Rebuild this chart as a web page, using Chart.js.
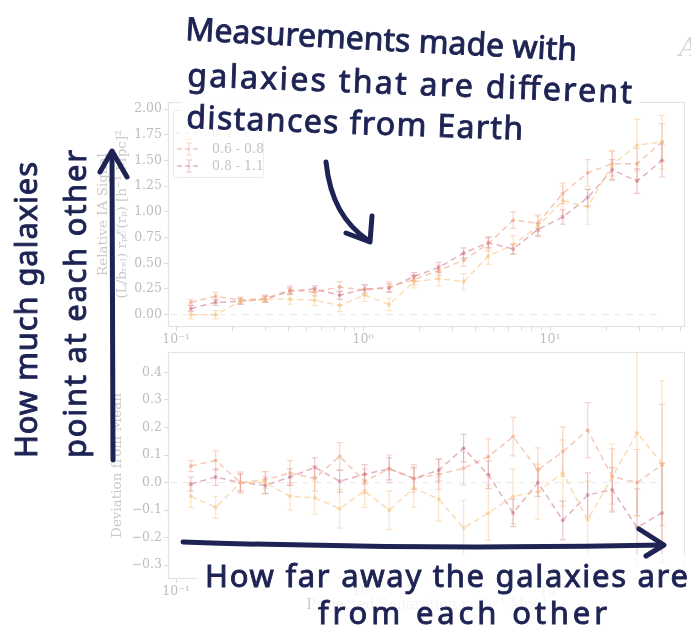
<!DOCTYPE html>
<html>
<head>
<meta charset="utf-8">
<script src="https://cdn.jsdelivr.net/npm/chart.js@4.4.1/dist/chart.umd.min.js"></script>
<style>
  html, body { margin: 0; padding: 0; background: #ffffff; width: 691px; height: 636px; overflow: hidden; }
  #wrap { position: relative; width: 691px; height: 636px; }
  canvas { position: absolute; left: 0; }
  #ann { position: absolute; left: 0; top: 0; }
</style>
</head>
<body>
<div id="wrap">
  <canvas id="topChart" width="691" height="260" style="top:90px"></canvas>
  <canvas id="botChart" width="691" height="296" style="top:340px"></canvas>
  <svg id="ann" width="691" height="636" xmlns="http://www.w3.org/2000/svg">
    <text x="679" y="56" font-family="DejaVu Serif" font-style="italic" font-size="26" fill="#d6d6d6">A</text>
    <g font-family="Noto Sans, sans-serif" fill="#1d2353" stroke="#1d2353" stroke-width="0.9" font-size="32">
      <g transform="rotate(3 185 40)">
        <rect x="178" y="8" width="408" height="44" fill="#ffffff" fill-opacity="0.82" stroke="none"/>
        <text x="185" y="40" textLength="392" lengthAdjust="spacing">Measurements made with</text>
      </g>
      <g transform="rotate(2.2 187 86)">
        <rect x="180" y="56" width="460" height="42" fill="#ffffff" fill-opacity="0.82" stroke="none"/>
        <text x="187" y="86" textLength="445" lengthAdjust="spacing">galaxies that are different</text>
      </g>
      <g transform="rotate(2 186 128)">
        <rect x="179" y="97" width="350" height="42" fill="#ffffff" fill-opacity="0.82" stroke="none"/>
        <text x="186" y="128" textLength="337" lengthAdjust="spacing">distances from Earth</text>
      </g>
      <rect x="196" y="554" width="495" height="44" fill="#ffffff" fill-opacity="0.8" stroke="none"/>
      <text x="205" y="587" textLength="483" lengthAdjust="spacing" font-size="31">How far away the galaxies are</text>
      <rect x="310" y="596" width="305" height="40" fill="#ffffff" fill-opacity="0.8" stroke="none"/>
      <text x="318" y="624" textLength="289" lengthAdjust="spacing" font-size="31">from each other</text>
      <text transform="translate(37 458) rotate(-90)" x="0" y="0" textLength="296" lengthAdjust="spacing" font-size="31">How much galaxies</text>
      <text transform="translate(86 458) rotate(-90)" x="0" y="0" textLength="308" lengthAdjust="spacing" font-size="31">point at each other</text>
    </g>
    <g fill="none" stroke="#1d2353" stroke-width="5" stroke-linecap="round" stroke-linejoin="round">
      <path d="M326 162 C 330 200, 344 224, 369 241"/>
      <path d="M346 233 L 370 242 L 372 216"/>
      <path d="M113 460 L 112 152"/>
      <path d="M100 172 L 112 151 L 127 177"/>
      <path d="M183 542 Q 420 550 663 545"/>
      <path d="M639 529 L 664 545 L 646 556"/>
    </g>
  </svg>
</div>
<script>
// ---------------- data ----------------
const separations = [0.12, 0.163, 0.221, 0.300, 0.407, 0.552, 0.750, 1.02, 1.38, 1.87,
                     2.54, 3.45, 4.68, 6.35, 8.62, 11.7, 15.9, 21.5, 29.2, 39.7];
const redshiftBins = ['0.4 - 0.6', '0.6 - 0.8', '0.8 - 1.1'];

// Relative IA signal (top panel)
const signalLow  = [0.00, 0.00, 0.13, 0.15, 0.15, 0.14, 0.09, 0.19, 0.10, 0.32, 0.35, 0.32, 0.57, 0.68, 0.86, 1.11, 1.05, 1.46, 1.65, 1.68];
const signalMid  = [0.12, 0.18, 0.14, 0.16, 0.24, 0.22, 0.27, 0.24, 0.27, 0.34, 0.43, 0.53, 0.69, 0.92, 0.89, 1.18, 1.38, 1.47, 1.47, 1.68];
const signalHigh = [0.06, 0.12, 0.13, 0.15, 0.23, 0.25, 0.19, 0.25, 0.26, 0.37, 0.46, 0.60, 0.70, 0.64, 0.83, 0.95, 1.14, 1.41, 1.30, 1.50];
const signalLowErr  = [0.04, 0.04, 0.03, 0.03, 0.05, 0.05, 0.06, 0.06, 0.06, 0.06, 0.07, 0.08, 0.08, 0.09, 0.10, 0.14, 0.17, 0.14, 0.25, 0.26];
const signalMidErr  = [0.03, 0.04, 0.03, 0.03, 0.04, 0.04, 0.05, 0.05, 0.05, 0.05, 0.05, 0.06, 0.07, 0.08, 0.08, 0.10, 0.13, 0.12, 0.15, 0.18];
const signalHighErr = [0.03, 0.03, 0.03, 0.03, 0.03, 0.03, 0.04, 0.04, 0.04, 0.04, 0.05, 0.05, 0.05, 0.05, 0.06, 0.07, 0.08, 0.10, 0.12, 0.16];

// Deviation from mean (bottom panel)
const devLow  = [-0.05, -0.09, 0.00, 0.00, -0.05, -0.055, -0.095, -0.03, -0.10, -0.02, -0.06, -0.165, -0.11, -0.05, -0.033, 0.035, -0.135, 0.02, 0.18, 0.07];
const devMid  = [0.06, 0.08, 0.00, 0.01, 0.035, 0.015, 0.095, 0.005, 0.05, 0.015, 0.03, 0.052, 0.094, 0.167, 0.046, 0.112, 0.19, 0.022, 0.00, 0.064];
const devHigh = [-0.005, 0.02, 0.00, -0.01, 0.02, 0.055, 0.005, 0.03, 0.05, 0.015, 0.045, 0.125, 0.028, -0.11, 0.00, -0.137, -0.045, -0.026, -0.163, -0.11];
const devLowErr  = [0.04, 0.04, 0.04, 0.04, 0.05, 0.06, 0.07, 0.06, 0.07, 0.07, 0.08, 0.10, 0.10, 0.10, 0.10, 0.12, 0.14, 0.12, 0.30, 0.30];
const devMidErr  = [0.02, 0.035, 0.035, 0.03, 0.045, 0.045, 0.05, 0.045, 0.05, 0.05, 0.055, 0.06, 0.065, 0.07, 0.08, 0.09, 0.10, 0.10, 0.12, 0.22];
const devHighErr = [0.025, 0.03, 0.03, 0.03, 0.03, 0.035, 0.04, 0.035, 0.04, 0.04, 0.04, 0.05, 0.05, 0.05, 0.05, 0.07, 0.08, 0.08, 0.14, 0.18];

// ticks
const xMajorTicks  = [0.1, 1, 10];
const xMajorLabels = ['10\u207B\u00B9', '10\u2070', '10\u00B9'];
const xMinorTicks  = [0.2, 0.3, 0.4, 0.5, 0.6, 0.7, 0.8, 0.9, 2, 3, 4, 5, 6, 7, 8, 9, 20, 30, 40, 50];
const topYTicks  = [0, 0.25, 0.5, 0.75, 1, 1.25, 1.5, 1.75, 2];
const topYLabels = ['0.00', '0.25', '0.50', '0.75', '1.00', '1.25', '1.50', '1.75', '2.00'];
const botYTicks  = [-0.3, -0.2, -0.1, 0, 0.1, 0.2, 0.3, 0.4];
const botYLabels = ['\u22120.3', '\u22120.2', '\u22120.1', '0.0', '0.1', '0.2', '0.3', '0.4'];

// ---------------- styles ----------------
const lineColors = ['rgba(248,196,130,0.6)', 'rgba(240,165,130,0.6)', 'rgba(205,115,135,0.55)'];
const barColors  = ['rgba(249,200,140,0.5)', 'rgba(242,175,145,0.5)', 'rgba(210,130,150,0.45)'];
const tickColor = '#bdbdbd';
const titleColor = '#c9c9c9';
const frameColor = '#e3e3e3';
const SERIF = 'DejaVu Serif';

function makeDatasets(vals, errs) {
  return vals.map((v, k) => ({
    label: redshiftBins[k],
    data: separations.map((x, i) => ({ x: x, y: v[i] })),
    errs: errs[k],
    errColor: barColors[k],
    borderColor: lineColors[k],
    backgroundColor: lineColors[k],
    borderWidth: 1.5,
    borderDash: [6, 4],
    pointRadius: 2,
    pointBorderWidth: 0,
    pointBackgroundColor: lineColors[k],
    tension: 0,
    fill: false
  }));
}

const decorPlugin = {
  id: 'decor',
  beforeDatasetsDraw(chart) {
    const { ctx, chartArea: a, scales: { x, y } } = chart;
    ctx.save();
    ctx.strokeStyle = frameColor; ctx.lineWidth = 1.2;
    ctx.strokeRect(a.left + 0.5, a.top + 0.5, a.width - 1, a.height - 1);
    ctx.beginPath(); ctx.rect(a.left, a.top, a.width, a.height); ctx.clip();
    const y0 = y.getPixelForValue(0);
    ctx.setLineDash([7, 5]); ctx.strokeStyle = '#ededed'; ctx.lineWidth = 1.3;
    ctx.beginPath(); ctx.moveTo(a.left + 2, y0); ctx.lineTo(x.getPixelForValue(separations[separations.length - 1]), y0); ctx.stroke();
    ctx.setLineDash([]);
    chart.data.datasets.forEach(d => {
      ctx.strokeStyle = d.errColor; ctx.lineWidth = 1.2;
      d.data.forEach((p, i) => {
        const px = x.getPixelForValue(p.x);
        const lo = y.getPixelForValue(p.y - d.errs[i]);
        const hi = y.getPixelForValue(p.y + d.errs[i]);
        ctx.beginPath();
        ctx.moveTo(px, lo); ctx.lineTo(px, hi);
        ctx.moveTo(px - 3, lo); ctx.lineTo(px + 3, lo);
        ctx.moveTo(px - 3, hi); ctx.lineTo(px + 3, hi);
        ctx.stroke();
      });
    });
    ctx.restore();
  }
};

const legendPlugin = {
  id: 'legendBox',
  afterDatasetsDraw(chart) {
    const { ctx } = chart;
    ctx.save();
    ctx.fillStyle = 'rgba(255,255,255,0.85)';
    ctx.strokeStyle = '#ececec'; ctx.lineWidth = 1;
    ctx.beginPath();
    if (ctx.roundRect) ctx.roundRect(173.5, 20.5, 90, 67, 3); else ctx.rect(173.5, 20.5, 90, 67);
    ctx.fill(); ctx.stroke();
    const rows = [43, 59, 76];
    chart.data.datasets.forEach((d, k) => {
      const yy = rows[k];
      ctx.strokeStyle = d.borderColor; ctx.lineWidth = 1.5; ctx.setLineDash([5, 3]);
      ctx.beginPath(); ctx.moveTo(177, yy); ctx.lineTo(201, yy); ctx.stroke();
      ctx.setLineDash([]); ctx.strokeStyle = d.errColor; ctx.lineWidth = 1.2;
      ctx.beginPath(); ctx.moveTo(189, yy - 6); ctx.lineTo(189, yy + 6);
      ctx.moveTo(186, yy - 6); ctx.lineTo(192, yy - 6); ctx.moveTo(186, yy + 6); ctx.lineTo(192, yy + 6); ctx.stroke();
      ctx.fillStyle = '#c4c4c4'; ctx.font = '12.5px "' + SERIF + '"'; ctx.textBaseline = 'middle'; ctx.textAlign = 'left';
      ctx.fillText(d.label, 212, yy + 1);
    });
    ctx.restore();
  }
};

function makeOptions(cfg) {
  return {
    responsive: false, animation: false, events: [],
    layout: { padding: { left: 0, right: 6, top: 12, bottom: 0 } },
    plugins: { legend: { display: false }, tooltip: { enabled: false } },
    scales: {
      x: {
        type: 'logarithmic', min: 0.0906, max: 52.7,
        afterBuildTicks: s => {
          s.ticks = xMajorTicks.concat(xMinorTicks).sort((a, b) => a - b).map(v => ({ value: v }));
        },
        afterFit: s => { s.height = cfg.xHeight; },
        ticks: {
          autoSkip: false, maxRotation: 0, minRotation: 0, padding: cfg.xPad, color: tickColor,
          font: { family: SERIF, size: 12.5 },
          callback: v => { const k = xMajorTicks.indexOf(v); return k >= 0 ? xMajorLabels[k] : ''; }
        },
        grid: { drawOnChartArea: false, drawTicks: true, tickLength: 4, tickColor: '#dcdcdc', tickWidth: 1 },
        border: { display: false },
        title: cfg.xTitle
      },
      y: {
        type: 'linear', min: cfg.yMin, max: cfg.yMax,
        afterBuildTicks: s => { s.ticks = cfg.yTicks.map(v => ({ value: v })); },
        afterFit: s => { s.width = 168; },
        ticks: {
          color: tickColor, padding: 2, font: { family: SERIF, size: 12.5 },
          callback: v => { const k = cfg.yTicks.indexOf(v); return k >= 0 ? cfg.yLabels[k] : ''; }
        },
        grid: { drawOnChartArea: false, drawTicks: true, tickLength: 4, tickColor: '#dcdcdc' },
        border: { display: false },
        title: cfg.yTitle
      }
    }
  };
}

new Chart(document.getElementById('topChart'), {
  type: 'line',
  data: { datasets: makeDatasets([signalLow, signalMid, signalHigh], [signalLowErr, signalMidErr, signalHighErr]) },
  options: makeOptions({
    xHeight: 23, xPad: 1, yMin: -0.12, yMax: 2.07, yTicks: topYTicks, yLabels: topYLabels,
    xTitle: { display: false },
    yTitle: {
      display: true,
      text: ['Relative IA Signal', '(L/b\u1D63\u2091\u2097) r\u209A\u2130(r\u209A) [h\u207B\u00B9 Mpc]\u00B2'],
      color: titleColor, font: { family: SERIF, size: 13.5, lineHeight: 1.4 },
      padding: { top: 94, bottom: 0 }
    }
  }),
  plugins: [decorPlugin, legendPlugin]
});

new Chart(document.getElementById('botChart'), {
  type: 'line',
  data: { datasets: makeDatasets([devLow, devMid, devHigh], [devLowErr, devMidErr, devHighErr]) },
  options: makeOptions({
    xHeight: 57, xPad: 1, yMin: -0.35, yMax: 0.474, yTicks: botYTicks, yLabels: botYLabels,
    xTitle: {
      display: true, text: 'Projected Separation r\u209A [h\u207B\u00B9 Mpc]',
      color: titleColor, font: { family: SERIF, size: 14, lineHeight: 1.4 },
      padding: { top: 0, bottom: 21 }
    },
    yTitle: {
      display: true, text: 'Deviation from Mean',
      color: titleColor, font: { family: SERIF, size: 13.5, lineHeight: 1.4 },
      padding: { top: 108, bottom: 0 }
    }
  }),
  plugins: [decorPlugin]
});
</script>
</body>
</html>
